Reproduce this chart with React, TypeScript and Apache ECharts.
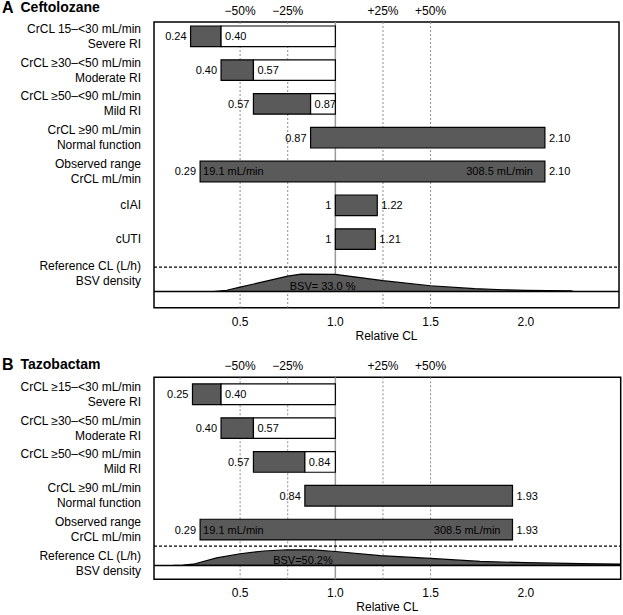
import React, { useEffect, useRef } from 'react';
import * as echarts from 'echarts';

const FONT = '"Liberation Sans", Arial, Helvetica, sans-serif';
const DARK = '#5a5a5a';
const TEXT = '#000000';

// ---------- shared axis values ----------
const xTickValues = [0.5, 1.0, 1.5, 2.0];
const pctTickValues = [0.5, 0.75, 1.25, 1.5];
const pctTickLabels = ['\u221250%', '\u221225%', '+25%', '+50%'];
const dashedRefValues = [0.5, 0.75, 1.25, 1.5];
const solidRefValue = 1.0;
const densityLabel = 'Reference CL (L/h)\nBSV density';

// ---------- Panel A: Ceftolozane ----------
const titleA = 'Ceftolozane';
const categoriesA = [
  'CrCL 15\u2013<30 mL/min\nSevere RI',
  'CrCL \u226530\u2013<50 mL/min\nModerate RI',
  'CrCL \u226550\u2013<90 mL/min\nMild RI',
  'CrCL \u226590 mL/min\nNormal function',
  'Observed range\nCrCL mL/min',
  'cIAI',
  'cUTI',
];
const lowA = [0.24, 0.4, 0.57, 0.87, 0.29, 1, 1];
const splitA = [0.4, 0.57, 0.87, 2.1, 2.1, 1.22, 1.21];
const highA = [1, 1, 1, 2.1, 2.1, 1.22, 1.21];
const lowTextA = ['0.24', '0.40', '0.57', '0.87', '0.29', '1', '1'];
const splitTextA = ['0.40', '0.57', '0.87', '', '', '', ''];
const highTextA = ['', '', '', '2.10', '2.10', '1.22', '1.21'];
const innerLeftA = ['', '', '', '', '19.1 mL/min', '', ''];
const innerRightA = ['', '', '', '', '308.5 mL/min', '', ''];
const densityXA = [0.36, 0.43, 0.5, 0.62, 0.75, 0.82, 1.0, 1.11, 1.25, 1.5, 1.73, 1.88, 2.0, 2.24, 2.25];
const densityYA = [0, 0.07, 0.25, 0.55, 0.88, 1.0, 0.98, 0.83, 0.62, 0.33, 0.16, 0.1, 0.06, 0.03, 0];
const bsvTextA = 'BSV= 33.0 %';

// ---------- Panel B: Tazobactam ----------
const titleB = 'Tazobactam';
const categoriesB = [
  'CrCL \u226515\u2013<30 mL/min\nSevere RI',
  'CrCL \u226530\u2013<50 mL/min\nModerate RI',
  'CrCL \u226550\u2013<90 mL/min\nMild RI',
  'CrCL \u226590 mL/min\nNormal function',
  'Observed range\nCrCL mL/min',
];
const lowB = [0.25, 0.4, 0.57, 0.84, 0.29];
const splitB = [0.4, 0.57, 0.84, 1.93, 1.93];
const highB = [1, 1, 1, 1.93, 1.93];
const lowTextB = ['0.25', '0.40', '0.57', '0.84', '0.29'];
const splitTextB = ['0.40', '0.57', '0.84', '', ''];
const highTextB = ['', '', '', '1.93', '1.93'];
const innerLeftB = ['', '', '', '', '19.1 mL/min'];
const innerRightB = ['', '', '', '', '308.5 mL/min'];
const densityXB = [0.15, 0.2, 0.254, 0.377, 0.5, 0.623, 0.746, 0.886, 1.0, 1.237, 1.5, 1.76, 2.0, 2.29, 2.5];
const densityYB = [0, 0.02, 0.07, 0.43, 0.67, 0.83, 0.9, 0.89, 0.8, 0.56, 0.4, 0.23, 0.16, 0.1, 0.075];
const bsvTextB = 'BSV=50.2%';

// ---------- layout (not data) ----------
const BAR_H = 0.61;
const DENS_SCALE = 0.5145;

type Panel = {
  title: string; letter: string; titleY: number;
  categories: string[]; low: number[]; split: number[]; high: number[];
  lowText: string[]; splitText: string[]; highText: string[];
  innerLeft: string[]; innerRight: string[];
  densX: number[]; densY: number[]; bsvText: string; bsvAt: [number, number];
  grid: { left: number; top: number; width: number; height: number };
  xMin: number; xMax: number; yMin: number; yMax: number;
  dottedRow: number; baseRow: number; densLabelRow: number; solidEnd: number;
};

const panels: Panel[] = [
  {
    title: titleA, letter: 'A', titleY: 8.5,
    categories: categoriesA, low: lowA, split: splitA, high: highA,
    lowText: lowTextA, splitText: splitTextA, highText: highTextA,
    innerLeft: innerLeftA, innerRight: innerRightA,
    densX: densityXA, densY: densityYA, bsvText: bsvTextA, bsvAt: [0.933, 8.375],
    grid: { left: 154, top: 22, width: 465, height: 285.7 },
    xMin: 0.048, xMax: 2.489, yMin: 0.577, yMax: 9.03,
    dottedRow: 7.83, baseRow: 8.55, densLabelRow: 8.02, solidEnd: 8.55,
  },
  {
    title: titleB, letter: 'B', titleY: 365.5,
    categories: categoriesB, low: lowB, split: splitB, high: highB,
    lowText: lowTextB, splitText: splitTextB, highText: highTextB,
    innerLeft: innerLeftB, innerRight: innerRightB,
    densX: densityXB, densY: densityYB, bsvText: bsvTextB, bsvAt: [0.83, 5.9],
    grid: { left: 154, top: 377.3, width: 466.7, height: 202 },
    xMin: 0.048, xMax: 2.498, yMin: 0.498, yMax: 6.47,
    dottedRow: 5.49, baseRow: 6.06, densLabelRow: 6.0, solidEnd: 6.47,
  },
];

function txt(text: string, x: number, y: number, align: string, size = 11) {
  return {
    type: 'text',
    style: { text, x, y, align, verticalAlign: 'middle', fill: TEXT, fontSize: size, fontFamily: FONT },
  };
}

function buildOption() {
  const grid: any[] = [];
  const xAxis: any[] = [];
  const yAxis: any[] = [];
  const series: any[] = [];
  const graphic: any[] = [];

  panels.forEach((p, pi) => {
    grid.push({
      left: p.grid.left, top: p.grid.top, width: p.grid.width, height: p.grid.height,
      show: true, borderColor: '#000', borderWidth: 1.5, backgroundColor: 'transparent',
    });
    const xb = xAxis.length;
    xAxis.push({
      type: 'value', gridIndex: pi, position: 'bottom', min: p.xMin, max: p.xMax,
      name: 'Relative CL', nameLocation: 'middle', nameGap: 22,
      nameTextStyle: { color: TEXT, fontSize: 12, fontFamily: FONT },
      axisLine: { show: false }, axisTick: { show: false }, splitLine: { show: false },
      axisLabel: {
        customValues: xTickValues, margin: 8, color: TEXT, fontSize: 12, fontFamily: FONT,
        formatter: (v: number) => v.toFixed(1),
      },
    });
    xAxis.push({
      type: 'value', gridIndex: pi, position: 'top', min: p.xMin, max: p.xMax,
      axisLine: { show: false }, axisTick: { show: false }, splitLine: { show: false },
      axisLabel: {
        customValues: pctTickValues, margin: 5, color: TEXT, fontSize: 12, fontFamily: FONT,
        formatter: (v: number) => {
          const i = pctTickValues.findIndex((t) => Math.abs(t - v) < 1e-6);
          return i >= 0 ? pctTickLabels[i] : '';
        },
      },
    });
    const labelRows = p.categories.map((_, i) => i + 1).concat([p.densLabelRow]);
    const labelTexts = p.categories.concat([densityLabel]);
    yAxis.push({
      type: 'value', gridIndex: pi, inverse: true, min: p.yMin, max: p.yMax,
      axisLine: { show: false }, axisTick: { show: false }, splitLine: { show: false },
      axisLabel: {
        customValues: labelRows, margin: 13, color: TEXT, fontSize: 12, fontFamily: FONT,
        lineHeight: 15, align: 'right',
        formatter: (v: number) => {
          const i = labelRows.findIndex((t) => Math.abs(t - v) < 1e-6);
          return i >= 0 ? labelTexts[i] : '';
        },
      },
    });

    // reference vertical lines
    const refData = dashedRefValues.map((v) => [v, 0]).concat([[solidRefValue, 1]]);
    series.push({
      type: 'custom', xAxisIndex: xb, yAxisIndex: pi, z: 1, silent: true,
      data: refData, encode: { x: 0 },
      renderItem: (params: any, api: any) => {
        const v = api.value(0);
        const solid = api.value(1) === 1;
        const a = api.coord([v, p.yMin]);
        const b = api.coord([v, solid ? p.solidEnd : p.yMax]);
        return {
          type: 'line',
          shape: { x1: a[0], y1: a[1], x2: b[0], y2: b[1] },
          style: solid
            ? { stroke: '#9a9a9a', lineWidth: 1.5 }
            : { stroke: '#8c8c8c', lineWidth: 1, lineDash: [2, 2] },
        };
      },
    });

    // density
    series.push({
      type: 'custom', xAxisIndex: xb, yAxisIndex: pi, z: 2, silent: true, clip: true,
      data: p.densX.map((x, i) => [x, p.densY[i]]), encode: { x: 0 },
      renderItem: (params: any, api: any) => {
        if (params.dataIndex !== 0) return null;
        const pts: number[][] = p.densX.map((x, i) => api.coord([x, p.baseRow - p.densY[i] * DENS_SCALE]));
        pts.push(api.coord([p.densX[p.densX.length - 1], p.baseRow]));
        pts.unshift(api.coord([p.densX[0], p.baseRow]));
        const lp = api.coord(p.bsvAt);
        return {
          type: 'group',
          children: [
            { type: 'polygon', shape: { points: pts }, style: { fill: DARK, stroke: '#000', lineWidth: 1.2 } },
            txt(p.bsvText, lp[0], lp[1], 'center', 11),
          ],
        };
      },
    });

    // bars
    series.push({
      type: 'custom', xAxisIndex: xb, yAxisIndex: pi, z: 3, silent: true,
      data: p.low.map((l, i) => [i + 1, l, p.split[i], p.high[i]]),
      encode: { x: [1, 2, 3], y: 0 },
      renderItem: (params: any, api: any) => {
        const i = params.dataIndex;
        const row = api.value(0);
        const lo = api.value(1);
        const sp = api.value(2);
        const hi = api.value(3);
        const pLo = api.coord([lo, row]);
        const pSp = api.coord([sp, row]);
        const pHi = api.coord([hi, row]);
        const h = api.size([0, BAR_H])[1];
        const children: any[] = [
          {
            type: 'rect',
            shape: { x: pLo[0], y: pLo[1] - h / 2, width: pSp[0] - pLo[0], height: h },
            style: { fill: DARK, stroke: '#000', lineWidth: 1.2 },
          },
        ];
        if (hi > sp) {
          children.push({
            type: 'rect',
            shape: { x: pSp[0], y: pSp[1] - h / 2, width: pHi[0] - pSp[0], height: h },
            style: { fill: '#fff', stroke: '#000', lineWidth: 1.2 },
          });
        }
        const y = pLo[1];
        if (p.lowText[i]) children.push(txt(p.lowText[i], pLo[0] - 4, y, 'right'));
        if (p.splitText[i]) children.push(txt(p.splitText[i], pSp[0] + 4, y, 'left'));
        if (p.highText[i]) children.push(txt(p.highText[i], pHi[0] + 4, y, 'left'));
        if (p.innerLeft[i]) children.push(txt(p.innerLeft[i], pLo[0] + 3, y, 'left'));
        if (p.innerRight[i]) children.push(txt(p.innerRight[i], pHi[0] - 12, y, 'right'));
        return { type: 'group', children };
      },
    });

    // horizontal separators
    series.push({
      type: 'custom', xAxisIndex: xb, yAxisIndex: pi, z: 4, silent: true,
      data: [[p.dottedRow, 0], [p.baseRow, 1]], encode: { y: 0 },
      renderItem: (params: any, api: any) => {
        const r = api.value(0);
        const solid = api.value(1) === 1;
        const a = api.coord([p.xMin, r]);
        const b = api.coord([p.xMax, r]);
        return {
          type: 'line',
          shape: { x1: a[0], y1: a[1], x2: b[0], y2: b[1] },
          style: solid
            ? { stroke: '#000', lineWidth: 1.5 }
            : { stroke: '#000', lineWidth: 1.3, lineDash: [3, 2] },
        };
      },
    });

    graphic.push({
      type: 'text', left: 2, top: p.titleY - 9,
      style: { text: p.letter, fill: '#000', fontSize: 16, fontWeight: 'bold', fontFamily: FONT },
    });
    graphic.push({
      type: 'text', left: 20.5, top: p.titleY - 8.5,
      style: { text: p.title, fill: '#000', fontSize: 14, fontWeight: 'bold', fontFamily: FONT },
    });
  });

  return {
    animation: false,
    backgroundColor: '#fff',
    textStyle: { fontFamily: FONT },
    grid, xAxis, yAxis, series, graphic,
  };
}

export default function App() {
  const ref = useRef<HTMLDivElement>(null);
  useEffect(() => {
    if (!ref.current) return;
    const chart = echarts.init(ref.current, undefined, { renderer: 'svg' });
    chart.setOption(buildOption() as any);
    return () => chart.dispose();
  }, []);
  return (
    <div
      ref={ref}
      style={{ position: 'absolute', left: 0, top: 0, width: 623, height: 615, background: '#fff' }}
    />
  );
}
